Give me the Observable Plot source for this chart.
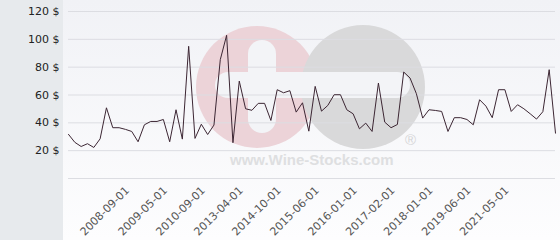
<!DOCTYPE html>
<html>
<head>
<meta charset="utf-8">
<script src="https://cdn.jsdelivr.net/npm/d3@7"></script>
<script src="https://cdn.jsdelivr.net/npm/@observablehq/plot@0.6"></script>
<style>
  html, body { margin: 0; padding: 0; background: #fff; }
  #wrap { position: relative; width: 560px; height: 240px; overflow: hidden; font-family: "DejaVu Sans", sans-serif; }
  #leftpanel { position: absolute; left: 0; top: 0; width: 63px; height: 240px; background: #e7eaed; }
  #plotbg { position: absolute; left: 63px; top: 0; width: 497px; height: 240px; background: linear-gradient(#f1f2f6, #fdfdfe); }
  #wm { position: absolute; left: 0; top: 0; }
  #chart { position: absolute; left: 0; top: 0; }
</style>
</head>
<body>
<div id="wrap">
  <div id="leftpanel"></div>
  <div id="plotbg"></div>
  <svg id="wm" width="560" height="240">
    <circle cx="257" cy="87" r="61" fill="#ecd3d8"/>
    <circle cx="363" cy="87" r="62" fill="#d9d9da"/>
    <rect x="215" y="72" width="195" height="26" rx="13" fill="#f3f4f7"/>
    <rect x="248" y="40" width="28" height="93" rx="14" fill="#f3f4f7"/>
    <text x="230" y="165" font-family="Liberation Sans, Arial, sans-serif" font-weight="bold" font-size="15" fill="#dedfe1">www.Wine-Stocks.com</text>
    <text x="405" y="145" font-family="Liberation Sans, Arial, sans-serif" font-size="15" fill="#d5d5d7">®</text>
  </svg>
  <div id="chart"></div>
</div>
<script>
// Prices (USD) per auction, in order
const prices = [
  31.7, 26, 23, 25, 22.3, 28.5, 50.8, 36.5, 36.5, 35.3,
  33.8, 26.4, 38.6, 41, 41, 42.4, 26.4, 49.4, 28.3, 95,
  28.8, 39, 31.6, 38.4, 85.4, 102.9, 25.7, 70, 50.1, 49,
  54, 54, 41.7, 63.8, 61.6, 63.1, 47.7, 54.4, 34, 66.2,
  48.4, 52.5, 60.2, 60.2, 49.4, 46.5, 35.7, 39.8, 33.8, 68.6,
  40.5, 36.5, 38.8, 76.5, 72.2, 61, 43.4, 49.4, 48.9, 48.2,
  33.8, 43.7, 43.7, 42.4, 38.6, 56.6, 52, 43.7, 63.8, 63.8,
  48.2, 53, 50.1, 46.5, 42.7, 48, 78.2, 32.6
];
// Positions (auction index) of the labelled dates on the x axis
const tickIndex = [9, 15, 21, 27, 33, 39, 45, 51, 57, 63, 69];
const tickLabels = ["2008-09-01", "2009-05-01", "2010-09-01", "2013-04-01", "2014-10-01",
  "2015-06-01", "2016-01-01", "2017-02-01", "2018-01-01", "2019-06-01", "2021-05-01"];
const yTicks = [20, 40, 60, 80, 100, 120];
const yGrid = [0, 20, 40, 60, 80, 100, 120];

const data = prices.map((v, i) => ({i, v}));
const labelOf = new Map(tickIndex.map((t, k) => [t, tickLabels[k]]));

const chart = Plot.plot({
  width: 560,
  height: 240,
  marginLeft: 68,
  marginRight: 5,
  marginTop: 11,
  marginBottom: 62,
  style: {background: "transparent", fontFamily: "DejaVu Sans, sans-serif", fontSize: "11px", overflow: "visible"},
  x: {type: "linear", domain: [0, prices.length - 1]},
  y: {domain: [0, 120]},
  marks: [
    Plot.ruleY(yGrid, {stroke: "#dcdde2", strokeWidth: 1, strokeOpacity: 1}),
    Plot.axisY(yTicks, {tickSize: 0, tickPadding: 9, tickFormat: d => d + " $", fill: "#222", fontSize: 11, label: null}),
    Plot.axisX(tickIndex, {tickSize: 0, tickPadding: 10, dx: 2, tickRotate: -45, tickFormat: d => labelOf.get(d), fill: "#555", fontSize: 11, label: null}),
    Plot.lineY(data, {x: "i", y: "v", stroke: "#3c2633", strokeWidth: 1})
  ]
});
document.getElementById("chart").appendChild(chart);
</script>
</body>
</html>
